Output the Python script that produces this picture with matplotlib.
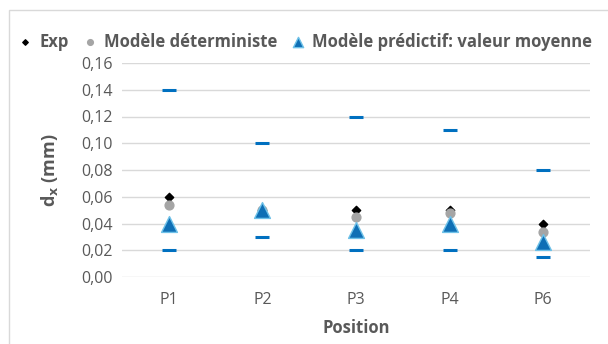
import numpy as np
import matplotlib.pyplot as plt
from matplotlib.patches import Rectangle

plt.rcParams['font.family'] = ['Open Sans', 'DejaVu Sans']

positions = ["P1", "P2", "P3", "P4", "P6"]
exp_vals = [0.060, 0.050, 0.050, 0.050, 0.040]
det_vals = [0.054, 0.050, 0.045, 0.048, 0.034]
pred_mean = [0.040, 0.050, 0.035, 0.040, 0.026]
pred_upper = [0.140, 0.100, 0.120, 0.110, 0.080]
pred_lower = [0.020, 0.030, 0.020, 0.020, 0.015]

grey = "#595959"
blue = "#0070C0"

fig = plt.figure(figsize=(6.08, 3.44), dpi=100)
ax = fig.add_axes([122 / 608, 1 - 277 / 344, 468 / 608, 214 / 344])

# chart border
fig.patches.append(Rectangle((9 / 608, -0.1), 1.2, 1 - 10 / 344 + 0.1, transform=fig.transFigure,
                             fill=False, edgecolor="#d9d9d9", linewidth=1.0))

x = np.arange(len(positions))
ax.scatter(x, pred_upper, marker="_", s=110, color=blue, linewidths=2.2, zorder=3)
ax.scatter(x, pred_lower, marker="_", s=110, color=blue, linewidths=2.2, zorder=3)
ax.scatter(x, exp_vals, marker="D", s=18, color="black", zorder=4, label="Exp")
ax.scatter(x, det_vals, marker="o", s=40, color="#a5a5a5", zorder=4, label="Modèle déterministe")
ax.scatter(x, pred_mean, marker="^", s=130, color="#0f6fb5", edgecolors="#6ec1e8",
           linewidths=1.0, zorder=5, label="Modèle prédictif: valeur moyenne")

ax.set_xlim(-0.5, len(positions) - 0.5)
ax.set_ylim(0, 0.16)
ax.set_yticks(np.arange(0, 0.161, 0.02))
ax.set_yticklabels([f"{v:.2f}".replace(".", ",") for v in np.arange(0, 0.161, 0.02)])
ax.set_xticks(x)
ax.set_xticklabels(positions)
ax.grid(axis="y", color="#d9d9d9", linewidth=1.0)
ax.set_axisbelow(True)
for s in ax.spines.values():
    s.set_visible(False)
ax.tick_params(axis="y", length=0, labelsize=11.5, labelcolor=grey, pad=7)
ax.tick_params(axis="x", length=0, labelsize=11.5, labelcolor=grey, pad=11)

ax.set_ylabel("d$_\\mathbf{x}$ (mm)", fontsize=13, fontweight="bold", color=grey, labelpad=15)
ax.set_xlabel("Position", fontsize=12, fontweight="bold", color=grey, labelpad=8)

fig.legend(loc="upper left", bbox_to_anchor=(12 / 608, 1 - 26 / 344), ncol=3, frameon=False,
           handlelength=0.8, handletextpad=0.45, columnspacing=0.85, borderaxespad=0,
           markerscale=0.65, prop={"weight": "bold", "size": 12}, labelcolor=grey,
           scatterpoints=1)

fig.savefig("out.png", dpi=100)
